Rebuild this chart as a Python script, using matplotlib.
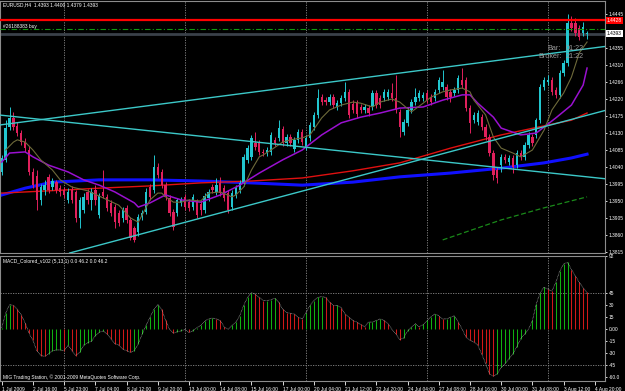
import matplotlib
matplotlib.use("Agg")
import matplotlib.pyplot as plt
import matplotlib.transforms as mtransforms
import numpy as np

# EURUSD H4, 1 Jul - 4 Aug 2009
opens = [
    1.4027, 1.4059, 1.4146, 1.4170, 1.4149, 1.4130, 1.4106, 1.4085, 1.4027, 1.4016,
    1.3953, 1.3979, 1.4014, 1.3987, 1.4000, 1.3984, 1.3979, 1.3953, 1.3979, 1.3974,
    1.3905, 1.3926, 1.3974, 1.3953, 1.3979, 1.3913, 1.3974, 1.3961, 1.3945, 1.3934,
    1.3918, 1.3905, 1.3932, 1.3900, 1.3879, 1.3868, 1.3908, 1.3921, 1.3987, 1.3979,
    1.4040, 1.4027, 1.3992, 1.3958, 1.3921, 1.3918, 1.3945, 1.3961, 1.3947, 1.3934,
    1.3947, 1.3942, 1.3926, 1.3958, 1.3987, 1.3974, 1.3998, 1.3984, 1.3971, 1.3934,
    1.3966, 1.3979, 1.3998, 1.4059, 1.4067, 1.4104, 1.4104, 1.4080, 1.4077, 1.4080,
    1.4112, 1.4117, 1.4141, 1.4104, 1.4119, 1.4088, 1.4112, 1.4133, 1.4093, 1.4117,
    1.4146, 1.4178, 1.4225, 1.4217, 1.4212, 1.4225, 1.4199, 1.4209, 1.4223, 1.4239,
    1.4207, 1.4209, 1.4199, 1.4191, 1.4196, 1.4199, 1.4236, 1.4223, 1.4223, 1.4225,
    1.4236, 1.4223, 1.4186, 1.4133, 1.4157, 1.4191, 1.4212, 1.4223, 1.4223, 1.4236,
    1.4225, 1.4223, 1.4244, 1.4252, 1.4252, 1.4239, 1.4236, 1.4244, 1.4270, 1.4270,
    1.4196, 1.4164, 1.4159, 1.4172, 1.4146, 1.4119, 1.4077, 1.4032, 1.4045, 1.4067,
    1.4053, 1.4064, 1.4045, 1.4077, 1.4067, 1.4098, 1.4119, 1.4125, 1.4164, 1.4252,
    1.4265, 1.4270, 1.4244, 1.4231, 1.4289, 1.4315, 1.4421, 1.4421, 1.4408, 1.4395,
    1.4393]
highs = [
    1.4072, 1.4164, 1.4199, 1.4186, 1.4159, 1.4138, 1.4117, 1.4096, 1.4037, 1.4032,
    1.3995, 1.4006, 1.4022, 1.4011, 1.4006, 1.3992, 1.3987, 1.3984, 1.3990, 1.3979,
    1.3961, 1.3971, 1.3982, 1.3984, 1.3992, 1.3971, 1.4032, 1.3969, 1.3953, 1.3942,
    1.3926, 1.3934, 1.3939, 1.3908, 1.3884, 1.3916, 1.3926, 1.3984, 1.3995, 1.4072,
    1.4051, 1.4035, 1.4000, 1.3966, 1.3929, 1.3958, 1.3961, 1.3969, 1.3955, 1.3969,
    1.3955, 1.3950, 1.3971, 1.3982, 1.3995, 1.4011, 1.4014, 1.3992, 1.3979, 1.3979,
    1.3992, 1.4006, 1.4074, 1.4098, 1.4125, 1.4133, 1.4112, 1.4088, 1.4093, 1.4133,
    1.4119, 1.4164, 1.4149, 1.4127, 1.4127, 1.4119, 1.4141, 1.4141, 1.4125, 1.4159,
    1.4186, 1.4247, 1.4233, 1.4225, 1.4233, 1.4233, 1.4217, 1.4231, 1.4265, 1.4247,
    1.4217, 1.4217, 1.4207, 1.4207, 1.4204, 1.4244, 1.4244, 1.4231, 1.4247, 1.4247,
    1.4262, 1.4284, 1.4194, 1.4167, 1.4199, 1.4220, 1.4249, 1.4244, 1.4239, 1.4244,
    1.4233, 1.4247, 1.4278, 1.4297, 1.4260, 1.4247, 1.4252, 1.4284, 1.4302, 1.4278,
    1.4204, 1.4186, 1.4191, 1.4180, 1.4154, 1.4127, 1.4085, 1.4040, 1.4074, 1.4074,
    1.4072, 1.4072, 1.4085, 1.4085, 1.4106, 1.4133, 1.4127, 1.4170, 1.4260, 1.4278,
    1.4284, 1.4278, 1.4252, 1.4297, 1.4323, 1.4445, 1.4440, 1.4434, 1.4416, 1.4424,
    1.4400]
lows = [
    1.4019, 1.4053, 1.4138, 1.4138, 1.4122, 1.4098, 1.4080, 1.4019, 1.3984, 1.3926,
    1.3939, 1.3966, 1.3971, 1.3979, 1.3971, 1.3963, 1.3958, 1.3945, 1.3945, 1.3894,
    1.3879, 1.3918, 1.3942, 1.3926, 1.3939, 1.3905, 1.3958, 1.3924, 1.3910, 1.3879,
    1.3884, 1.3894, 1.3892, 1.3847, 1.3842, 1.3857, 1.3900, 1.3916, 1.3953, 1.3971,
    1.4011, 1.3984, 1.3953, 1.3910, 1.3873, 1.3910, 1.3937, 1.3926, 1.3924, 1.3926,
    1.3905, 1.3913, 1.3918, 1.3950, 1.3971, 1.3966, 1.3963, 1.3950, 1.3918, 1.3926,
    1.3958, 1.3971, 1.3990, 1.4051, 1.4059, 1.4085, 1.4072, 1.4069, 1.4069, 1.4072,
    1.4096, 1.4109, 1.4096, 1.4096, 1.4096, 1.4080, 1.4104, 1.4098, 1.4085, 1.4109,
    1.4138, 1.4170, 1.4204, 1.4204, 1.4204, 1.4196, 1.4191, 1.4202, 1.4215, 1.4170,
    1.4183, 1.4170, 1.4183, 1.4183, 1.4175, 1.4191, 1.4196, 1.4196, 1.4215, 1.4217,
    1.4215, 1.4183, 1.4119, 1.4125, 1.4149, 1.4183, 1.4204, 1.4215, 1.4215, 1.4209,
    1.4204, 1.4215, 1.4236, 1.4244, 1.4217, 1.4212, 1.4228, 1.4236, 1.4249, 1.4188,
    1.4130, 1.4157, 1.4151, 1.4138, 1.4112, 1.4069, 1.4006, 1.3998, 1.4027, 1.4051,
    1.4045, 1.4024, 1.4037, 1.4059, 1.4059, 1.4090, 1.4096, 1.4117, 1.4157, 1.4244,
    1.4257, 1.4231, 1.4223, 1.4223, 1.4281, 1.4307, 1.4400, 1.4387, 1.4376, 1.4387,
    1.4379]
closes = [
    1.4064, 1.4143, 1.4170, 1.4146, 1.4130, 1.4106, 1.4090, 1.4027, 1.3992, 1.3953,
    1.3987, 1.3992, 1.3979, 1.4003, 1.3979, 1.3974, 1.3966, 1.3974, 1.3953, 1.3905,
    1.3953, 1.3961, 1.3953, 1.3974, 1.3953, 1.3963, 1.3963, 1.3932, 1.3918, 1.3894,
    1.3892, 1.3926, 1.3900, 1.3852, 1.3847, 1.3908, 1.3918, 1.3974, 1.3961, 1.4040,
    1.4019, 1.3992, 1.3961, 1.3918, 1.3881, 1.3953, 1.3953, 1.3934, 1.3932, 1.3961,
    1.3913, 1.3926, 1.3963, 1.3974, 1.3979, 1.3992, 1.3971, 1.3958, 1.3926, 1.3971,
    1.3984, 1.3998, 1.4067, 1.4090, 1.4117, 1.4093, 1.4080, 1.4077, 1.4085, 1.4125,
    1.4104, 1.4143, 1.4104, 1.4119, 1.4104, 1.4112, 1.4133, 1.4106, 1.4117, 1.4151,
    1.4178, 1.4223, 1.4212, 1.4212, 1.4225, 1.4204, 1.4209, 1.4223, 1.4239, 1.4178,
    1.4191, 1.4180, 1.4191, 1.4199, 1.4183, 1.4236, 1.4204, 1.4204, 1.4239, 1.4239,
    1.4223, 1.4191, 1.4146, 1.4159, 1.4191, 1.4212, 1.4225, 1.4236, 1.4231, 1.4217,
    1.4212, 1.4239, 1.4270, 1.4265, 1.4225, 1.4225, 1.4244, 1.4276, 1.4257, 1.4196,
    1.4157, 1.4178, 1.4183, 1.4146, 1.4119, 1.4077, 1.4019, 1.4011, 1.4067, 1.4059,
    1.4064, 1.4040, 1.4077, 1.4067, 1.4098, 1.4125, 1.4104, 1.4164, 1.4252, 1.4270,
    1.4270, 1.4239, 1.4231, 1.4289, 1.4315, 1.4421, 1.4408, 1.4395, 1.4384, 1.4411,
    1.4393]

# medias moviles (barra, precio)
ma_fast_bar = [1, 3, 4, 6, 8, 10, 13, 15, 18, 22, 25, 30, 33, 35, 36, 38, 40, 41, 42, 44,
               46, 48, 51, 53, 56, 59, 60, 62, 64, 66, 67, 69, 72, 74, 77, 79, 82, 84, 87,
               90, 92, 95, 97, 100, 102, 105, 108, 110, 113, 115, 118, 120, 121, 124, 126,
               128, 131, 133, 136, 139, 141, 144, 146, 148, 150]
ma_fast_val = [1.4085, 1.4106, 1.4112, 1.4106, 1.4085, 1.4059, 1.4032, 1.4006, 1.3987, 1.3977,
               1.3963, 1.3939, 1.3905, 1.3894, 1.3913, 1.3953, 1.3971, 1.3971, 1.3961, 1.3947,
               1.3947, 1.3953, 1.3950, 1.3971, 1.3974, 1.3961, 1.3966, 1.3987, 1.4032, 1.4067,
               1.4072, 1.4085, 1.4106, 1.4112, 1.4117, 1.4125, 1.4170, 1.4191, 1.4204,
               1.4212, 1.4209, 1.4199, 1.4212, 1.4220, 1.4212, 1.4186, 1.4209, 1.4225, 1.4239,
               1.4244, 1.4249, 1.4239, 1.4217, 1.4178, 1.4119, 1.4090, 1.4077, 1.4067,
               1.4085, 1.4138, 1.4191, 1.4236, 1.4278, 1.4342, 1.4371]
ma_mid_bar = [0, 2, 6, 8, 12, 17, 21, 25, 29, 34, 35, 38, 41, 42, 46, 51, 56, 61, 66, 72,
              77, 82, 87, 92, 97, 102, 108, 113, 118, 120, 122, 126, 128, 133, 137, 139,
              142, 146, 149, 150]
ma_mid_val = [1.4053, 1.4077, 1.4080, 1.4067, 1.4045, 1.4027, 1.4006, 1.3992, 1.3974, 1.3945,
              1.3934, 1.3945, 1.3961, 1.3966, 1.3953, 1.3947, 1.3966, 1.3992, 1.4024, 1.4059,
              1.4085, 1.4125, 1.4157, 1.4172, 1.4183, 1.4196, 1.4199, 1.4217, 1.4231, 1.4231,
              1.4209, 1.4172, 1.4143, 1.4125, 1.4130, 1.4146, 1.4170, 1.4204, 1.4257, 1.4302]
ma_slow_bar = [0, 12, 25, 38, 51, 64, 77, 90, 102, 115, 128, 139, 146, 150]
ma_slow_val = [1.3971, 1.3977, 1.3984, 1.3990, 1.3998, 1.4003, 1.4011, 1.4030, 1.4051, 1.4090,
               1.4125, 1.4149, 1.4164, 1.4183]
ma_long_bar = [0, 6, 13, 25, 38, 51, 64, 77, 90, 102, 115, 128, 139, 146, 150]
ma_long_val = [1.3966, 1.3984, 1.4000, 1.4006, 1.4006, 1.4003, 1.3998, 1.3992, 1.4000, 1.4014,
               1.4024, 1.4037, 1.4051, 1.4064, 1.4074]
ma_dash_bar = [113, 128, 139, 150]
ma_dash_val = [1.3847, 1.3900, 1.3932, 1.3961]

# lineas de tendencia: (barra, precio) de dos anclas
trend_upper = [(0, 1.4152), (150, 1.4353)]
trend_down = [(0, 1.4177), (150, 1.4014)]
trend_lower = [(50, 1.3902), (150, 1.4177)]

hline_red = 1.4428
order_price = 1.4405
bid = 1.4393

macd = [2, 20, 31, 30, 25, 18, 8, -5, -14, -27,
        -33, -34, -31, -27, -26, -26, -27, -20, -27, -33,
        -29, -20, -17, -15, -8, -4, -2, -6, -12, -18,
        -20, -25, -27, -29, -27, -18, -6, 5, 15, 25,
        31, 25, 11, 0, -5, -3, -2, 0, -4, -2,
        2, 5, 10, 13, 14, 13, 11, 3, 0, 5,
        9, 17, 30, 40, 46, 44, 40, 36, 36, 37,
        39, 34, 25, 21, 20, 19, 15, 13, 21, 30,
        36, 40, 41, 40, 34, 30, 30, 27, 19, 15,
        11, 9, 6, 3, 9, 9, 11, 13, 11, 7,
        0, -6, -13, -11, -2, 3, 7, 3, 6, 11,
        16, 19, 17, 13, 13, 15, 17, 9, 0, -10,
        -14, -16, -20, -31, -43, -56, -59, -56, -48, -43,
        -37, -31, -22, -12, -6, 0, 11, 32, 46, 53,
        50, 48, 59, 73, 82, 84, 75, 67, 59, 52,
        46.2]

price_ticks = [1.4445, 1.4355, 1.4310, 1.4266, 1.4220, 1.4175, 1.4130, 1.4085,
               1.4040, 1.3995, 1.3950, 1.3905, 1.3860, 1.3815]
macd_ticks = [92, 45, 30, 15, 0, -15, -30, -45, -60]
macd_tick_labels = ["92", "45", "30", "15", "0.00", "-15", "-30", "-45", "-60.0"]
time_labels = ["1 Jul 2009", "2 Jul 16:00", "5 Jul 23:00", "7 Jul 04:00", "8 Jul 12:00",
               "9 Jul 20:00", "13 Jul 00:00", "14 Jul 08:00", "15 Jul 16:00", "17 Jul 00:00",
               "20 Jul 04:00", "21 Jul 12:00", "22 Jul 20:00", "24 Jul 04:00", "27 Jul 08:00",
               "28 Jul 16:00", "30 Jul 00:00", "31 Jul 08:00", "3 Aug 12:00", "4 Aug 20:00"]
week_bars = [16, 47, 78, 109, 140]

plt.rcParams['font.family'] = ['Liberation Sans', 'DejaVu Sans']

W, H = 625, 391
fig = plt.figure(figsize=(W / 100, H / 100), dpi=100, facecolor="black")


def px_axes(x0, y0, x1, y1):
    return fig.add_axes([x0 / W, 1 - y1 / H, (x1 - x0) / W, (y1 - y0) / H])


ax = px_axes(0, 1, 605, 253)
axm = px_axes(0, 256, 605, 381)

gris = "#8c8c8c"
fs = 3.5
for a in (ax, axm):
    a.set_facecolor("black")
    a.set_xlim(-0.44, 154.6)
    for s in a.spines.values():
        s.set_color(gris)
        s.set_linewidth(0.8)
    for b in week_bars:
        a.axvline(b, color="#8a8a8a", lw=0.6, ls=(0, (1.5, 1.5)), zorder=1)

ax.set_ylim(1.38124, 1.44795)

# velas
o = np.array(opens)
h = np.array(highs)
l = np.array(lows)
c = np.array(closes)
idx = np.arange(len(c))
col = np.where(c >= o, "#22c6cf", "#e0205c")
ax.plot(ma_long_bar, ma_long_val, color="#1010ff", lw=2.2, zorder=2)
ax.plot(ma_slow_bar, ma_slow_val, color="#e01010", lw=1.0, zorder=2)
ax.plot(ma_dash_bar, ma_dash_val, color="#1a8a1a", lw=0.9, ls=(0, (4, 2)), zorder=2)
ax.vlines(idx, l, h, colors=col, lw=0.7, zorder=3)
ax.bar(idx, np.maximum(np.abs(c - o), 0.00012), bottom=np.minimum(o, c), width=0.6,
       color=col, lw=0, zorder=3)
ax.plot(ma_mid_bar, ma_mid_val, color="#9a10d0", lw=1.1, zorder=4)
ax.plot(ma_fast_bar, ma_fast_val, color="#6e6a3a", lw=0.8, zorder=4)

for p1, p2 in (trend_upper, trend_down, trend_lower):
    ax.axline(p1, p2, color="#3cc8c8", lw=1.0, zorder=5)

ax.axhline(hline_red, color="#ff0000", lw=1.6, zorder=5)
ax.axhline(order_price, color="#109a10", lw=0.8, dashes=[5, 2, 1, 2], zorder=5)
ax.axhline(bid, color="#3a4149", lw=2.0, zorder=2)

ax.yaxis.tick_right()
ax.set_yticks(price_ticks)
ax.set_yticklabels([f"{p:.4f}" for p in price_ticks])
ax.tick_params(axis="y", colors="white", labelsize=fs, length=1.5, pad=1, width=0.6)
ax.tick_params(axis="x", bottom=False, labelbottom=False)
for t in ax.yaxis.get_ticklines():
    t.set_color(gris)

tr = mtransforms.blended_transform_factory(ax.transAxes, ax.transData)
ax.text(1.003, hline_red, f"{hline_red:.4f}", transform=tr, fontsize=fs, color="white",
        va="center", ha="left", clip_on=False,
        bbox=dict(facecolor="#ff0000", edgecolor="none", pad=0.6), zorder=6)
ax.text(1.003, bid, f"{bid:.4f}", transform=tr, fontsize=fs, color="black",
        va="center", ha="left", clip_on=False,
        bbox=dict(facecolor="white", edgecolor="none", pad=0.6), zorder=6)

# MACD
m = np.array(macd)
dm = np.diff(m, prepend=m[0])
mcol = np.where(dm >= 0, "#10b010", "#d01818")
axm.set_ylim(-65, 92)
axm.vlines(np.arange(len(m)), 0, m, colors=mcol, lw=0.75, zorder=3)
axm.plot(np.arange(len(m)), m, color="#b0b0b0", lw=0.5, ls=(0, (1, 1)), zorder=4)
for lv in (45, -45):
    axm.axhline(lv, color="#8a8a8a", lw=0.6, ls=(0, (1.5, 1.5)), zorder=1)

axm.yaxis.tick_right()
axm.set_yticks(macd_ticks)
axm.set_yticklabels(macd_tick_labels)
axm.tick_params(axis="y", colors="white", labelsize=fs, length=1.5, pad=1, width=0.6)
axm.set_xticks([8 * k for k in range(len(time_labels))])
axm.set_xticklabels(time_labels, ha="left")
axm.tick_params(axis="x", colors="white", labelsize=fs, length=3, pad=1, width=0.6)
for t in axm.get_yticklines() + axm.get_xticklines():
    t.set_color(gris)

# textos
def px_text(x, y, s, **kw):
    fig.text(x / W, 1 - y / H, s, va="center", ha="left", **kw)

px_text(3, 5, "EURUSD,H4  1.4393 1.4400 1.4379 1.4393", color="white", fontsize=fs)
px_text(3, 26.5, "#26188383 buy", color="white", fontsize=fs)
px_text(547, 49, "Bar:", color="#9a9a9a", fontsize=5.2)
px_text(566, 49, "01:22", color="#9a9a9a", fontsize=5.2)
px_text(538, 57, "Broker:", color="#9a9a9a", fontsize=5.2)
px_text(566, 57, "21:22", color="#9a9a9a", fontsize=5.2)
px_text(3, 262, "MACD_Colored_v102 (5,13,1) 0.0 46.2 0.0 46.2", color="white", fontsize=fs)
px_text(3, 377, "MIG Trading Station, \u00a9 2001-2009 MetaQuotes Software Corp.",
        color="white", fontsize=fs)

fig.savefig("out.png", dpi=100, facecolor="black")
